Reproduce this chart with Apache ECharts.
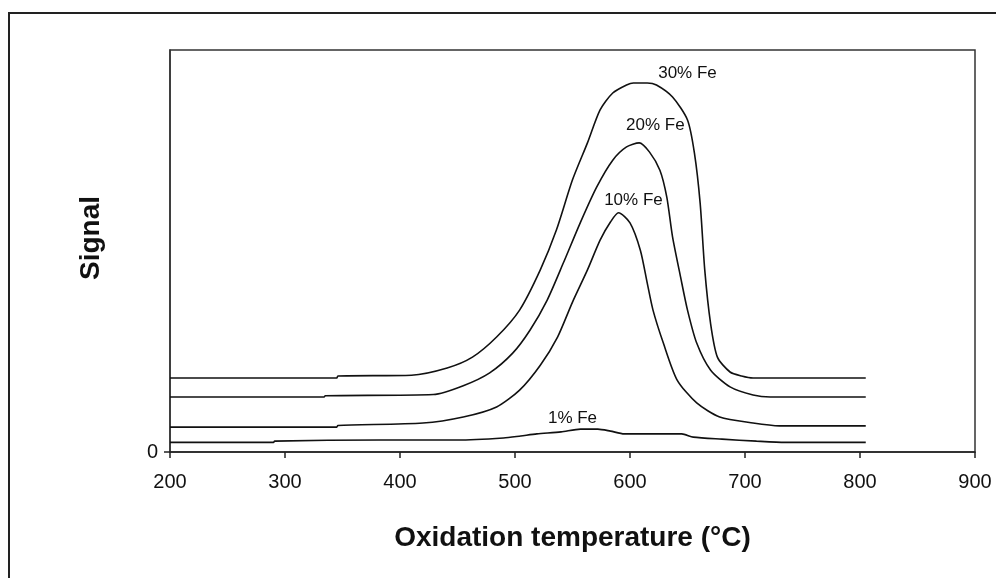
<!DOCTYPE html>
<html>
<head>
<meta charset="utf-8">
<script src="https://cdn.jsdelivr.net/npm/echarts@6/dist/echarts.min.js"></script>
<style>
  html, body { margin: 0; padding: 0; background: #fff; }
  #chart { position: absolute; left: 0; top: 0; width: 996px; height: 578px; }
  #frame { position: absolute; left: 8px; top: 12px; width: 988px; height: 566px;
           border-left: 2px solid #222; border-top: 2px solid #222; box-sizing: border-box; pointer-events: none; }
</style>
</head>
<body>
<div id="chart"></div>
<div id="frame"></div>
<script>
// ---- Data ----
const xTicks = [200, 300, 400, 500, 600, 700, 800, 900];

const temps30 = [200, 345, 346, 410, 441, 463, 484, 504, 522, 536, 550, 563, 574, 585, 597, 603, 615, 623, 637, 650, 656, 661, 665, 670, 676, 687, 697, 707, 805];
const vals30  = [18.4, 18.4, 18.9, 19.1, 20.9, 23.6, 28.6, 35.3, 45.3, 55.2, 67.7, 76.9, 85.1, 89.3, 91.3, 91.8, 91.8, 91.3, 88.3, 82.6, 74.4, 61.9, 45.3, 32.1, 23.6, 19.9, 18.9, 18.4, 18.4];

const temps20 = [200, 334, 335, 429, 455, 478, 498, 513, 528, 542, 557, 571, 585, 597, 608, 617, 626, 632, 637, 644, 650, 658, 670, 687, 707, 722, 805];
const vals20  = [13.7, 13.7, 14.0, 14.3, 16.5, 19.7, 24.6, 30.3, 37.8, 47.0, 57.2, 65.9, 72.6, 75.9, 76.9, 74.6, 70.1, 63.4, 53.5, 43.5, 35.3, 27.1, 20.4, 16.2, 14.2, 13.7, 13.7];

const temps10 = [200, 345, 346, 420, 455, 484, 504, 522, 537, 550, 563, 574, 583, 590, 600, 609, 615, 620, 629, 641, 658, 678, 707, 730, 805];
const vals10  = [6.2, 6.2, 6.6, 7.2, 8.7, 11.2, 15.4, 21.6, 28.6, 37.3, 45.3, 52.7, 57.2, 59.5, 57.0, 50.2, 42.0, 35.3, 27.1, 17.9, 12.2, 8.7, 7.2, 6.5, 6.5];

const temps1 = [200, 290, 291, 383, 450, 490, 505, 519, 540, 557, 572, 583, 595, 645, 655, 680, 710, 735, 805];
const vals1  = [2.4, 2.4, 2.7, 3.0, 3.0, 3.5, 4.0, 4.5, 5.0, 5.7, 5.7, 5.2, 4.5, 4.5, 3.7, 3.2, 2.7, 2.4, 2.4];

const seriesNames = ['30% Fe', '20% Fe', '10% Fe', '1% Fe'];
// label anchors in data units (temperature, signal)
const labelTemps = [650, 622, 603, 550];
const labelVals  = [94.3, 81.3, 62.7, 8.5];

const allTemps = [temps30, temps20, temps10, temps1];
const allVals  = [vals30, vals20, vals10, vals1];

const chart = echarts.init(document.getElementById('chart'), null, { renderer: 'canvas' });

const series = seriesNames.map((name, i) => ({
  name: name,
  type: 'line',
  data: allTemps[i].map((t, j) => [t, allVals[i][j]]),
  showSymbol: false,
  symbol: 'none',
  smooth: 0.25,
  lineStyle: { color: '#111', width: 1.6 },
  z: 3,
  markPoint: {
    symbol: 'circle',
    symbolSize: 0,
    silent: true,
    data: [{
      coord: [labelTemps[i], labelVals[i]],
      label: {
        show: true,
        formatter: name,
        position: 'inside',
        color: '#111',
        fontFamily: 'Liberation Sans, Arial, sans-serif',
        fontSize: 17
      }
    }]
  }
}));

const option = {
  animation: false,
  backgroundColor: '#fff',
  grid: {
    left: 170, right: 21, top: 50, bottom: 126,
    show: true, borderColor: '#333', borderWidth: 1.5, backgroundColor: 'transparent'
  },
  xAxis: {
    type: 'value',
    min: 200, max: 900, interval: 100,
    name: 'Oxidation temperature (°C)',
    nameLocation: 'middle',
    nameGap: 72,
    nameTextStyle: { fontFamily: 'Liberation Sans, Arial, sans-serif', fontSize: 28, fontWeight: 'bold', color: '#111' },
    axisLine: { show: true, lineStyle: { color: '#222', width: 1.5 } },
    axisTick: { show: true, inside: false, length: 6, lineStyle: { color: '#222', width: 1.5 } },
    axisLabel: {
      margin: 20, color: '#111', fontSize: 20,
      fontFamily: 'Liberation Sans, Arial, sans-serif',
      formatter: v => xTicks.includes(v) ? String(v) : ''
    },
    splitLine: { show: false }
  },
  yAxis: {
    type: 'value',
    min: 0, max: 100, interval: 100,
    name: 'Signal',
    nameLocation: 'middle',
    nameGap: 65,
    nameRotate: 90,
    nameTextStyle: { fontFamily: 'Liberation Sans, Arial, sans-serif', fontSize: 28, fontWeight: 'bold', color: '#111', padding: [0, 0, 0, 26] },
    axisLine: { show: true, lineStyle: { color: '#333', width: 1.5 } },
    axisTick: { show: true, length: 6, customValues: [0], lineStyle: { color: '#222', width: 1.5 } },
    axisLabel: {
      margin: 12, color: '#111', fontSize: 20,
      fontFamily: 'Liberation Sans, Arial, sans-serif',
      customValues: [0],
      formatter: v => v === 0 ? '0' : ''
    },
    splitLine: { show: false }
  },
  series: series
};

chart.setOption(option);
</script>
</body>
</html>
